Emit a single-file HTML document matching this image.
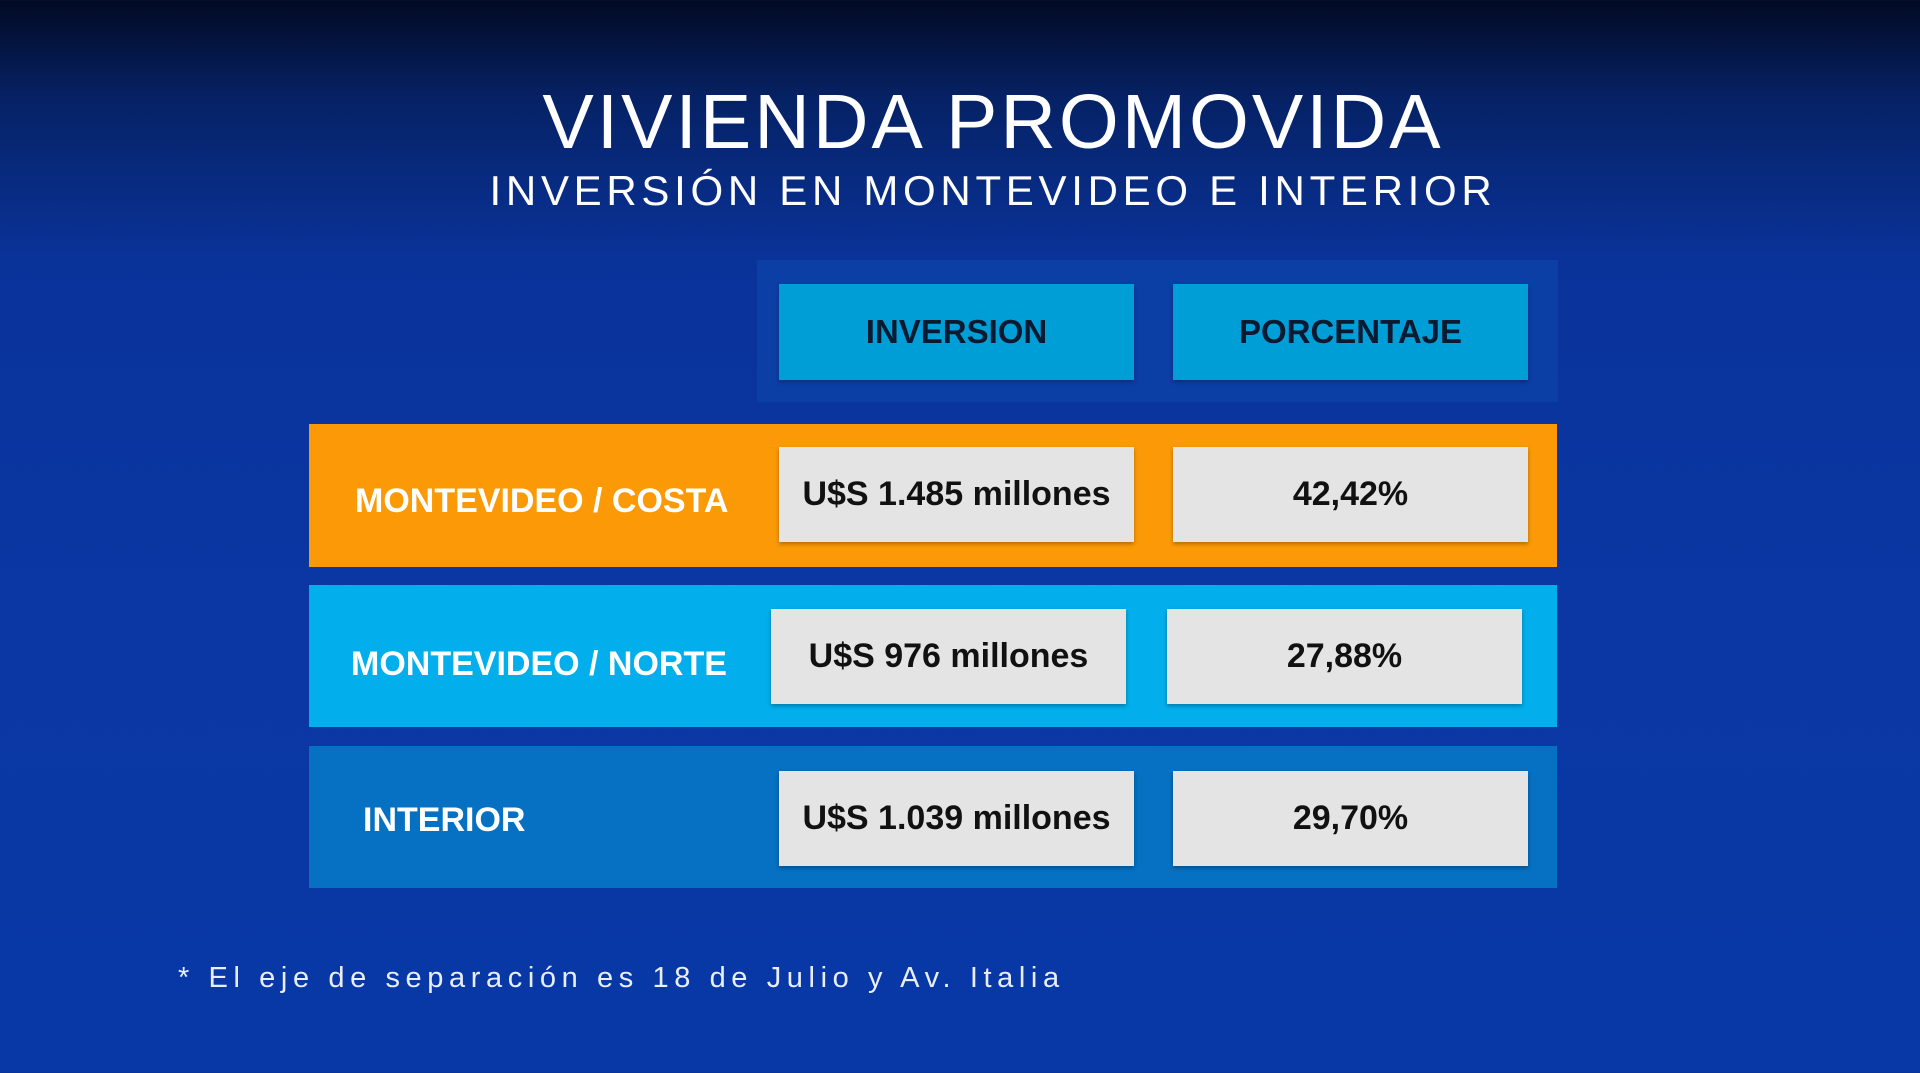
<!DOCTYPE html>
<html><head><meta charset="utf-8"><style>
html,body{margin:0;padding:0}
body{width:1920px;height:1073px;position:relative;overflow:hidden;
background:linear-gradient(180deg,#020a24 0px,#062266 100px,#0a339a 260px,#0a37a4 600px,#0838a6 1073px);
font-family:"Liberation Sans",sans-serif;}
.a{position:absolute}
.t1{left:0;width:1986px;top:78px;text-align:center;color:#fff;font-size:77px;letter-spacing:3px;}
.t2{left:0;width:1986px;top:167px;text-align:center;color:#fff;font-size:42px;letter-spacing:4.7px;}
.hp{left:757px;top:260px;width:801px;height:142px;background:#0b3fa6}
.hb{background:#009ed6;color:#0a1a30;font-weight:bold;font-size:33px;display:flex;align-items:center;justify-content:center;box-shadow:0 2px 4px rgba(0,0,0,.3)}
.row{left:309px;width:1248px;height:142px}
.lab{color:#fff;font-weight:bold;font-size:34px;display:flex;align-items:center;height:142px}
.box{background:#e4e4e4;color:#111;font-weight:bold;font-size:34px;display:flex;align-items:center;justify-content:center;width:355px;height:95px;box-shadow:0 2px 4px rgba(0,0,0,.3)}
.fn{left:178px;top:962px;color:#e8eefc;font-size:29px;letter-spacing:5.6px}
</style></head><body>
<div class="a t1">VIVIENDA PROMOVIDA</div>
<div class="a t2">INVERSIÓN EN MONTEVIDEO E INTERIOR</div>
<div class="a hp"></div>
<div class="a hb" style="left:779px;top:284px;width:355px;height:96px">INVERSION</div>
<div class="a hb" style="left:1173px;top:284px;width:355px;height:96px">PORCENTAJE</div>

<div class="a row" style="top:424px;height:143px;background:#fb9a06"></div>
<div class="a lab" style="left:355px;top:430px">MONTEVIDEO / COSTA</div>
<div class="a box" style="left:779px;top:447px">U$S 1.485 millones</div>
<div class="a box" style="left:1173px;top:447px">42,42%</div>

<div class="a row" style="top:585px;background:#02aeec"></div>
<div class="a lab" style="left:351px;top:593px">MONTEVIDEO / NORTE</div>
<div class="a box" style="left:771px;top:609px">U$S 976 millones</div>
<div class="a box" style="left:1167px;top:609px">27,88%</div>

<div class="a row" style="top:746px;background:#0670c2"></div>
<div class="a lab" style="left:363px;top:749px">INTERIOR</div>
<div class="a box" style="left:779px;top:771px">U$S 1.039 millones</div>
<div class="a box" style="left:1173px;top:771px">29,70%</div>

<div class="a fn">* El eje de separación es 18 de Julio y Av. Italia</div>
</body></html>
